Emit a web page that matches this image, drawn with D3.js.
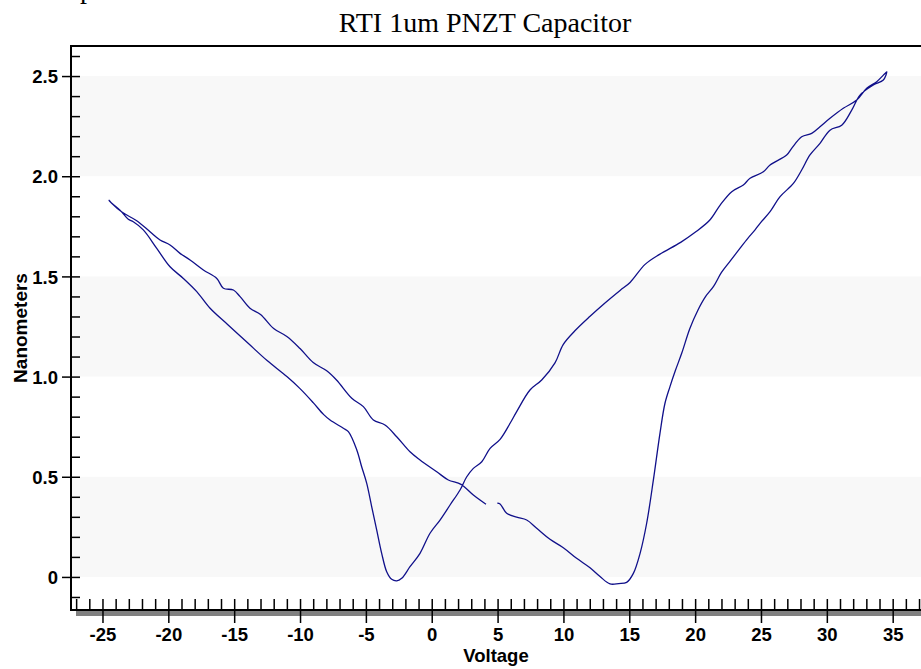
<!DOCTYPE html>
<html>
<head>
<meta charset="utf-8">
<script src="https://cdn.jsdelivr.net/npm/d3@7"></script>
<style>
  body { margin: 0; background: #fff; }
  svg { display: block; }
  .tick text { font-family: "Liberation Sans", Arial, sans-serif; font-weight: bold; font-size: 18.5px; fill: #000; }
</style>
</head>
<body>
<div id="chart"></div>
<script>
// Title
var chartTitle = "RTI 1um PNZT Capacitor";
var xLabel = "Voltage";
var yLabel = "Nanometers";

// tick values
var xTicks = [-25, -20, -15, -10, -5, 0, 5, 10, 15, 20, 25, 30, 35];
var yTicks = [0, 0.5, 1.0, 1.5, 2.0, 2.5];
var yBands = [[0, 0.5], [1.0, 1.5], [2.0, 2.5]];

// the loop, in measurement order (starts just right of the gap near 5 V)
var volts = [
  4.98, 5.19, 5.69, 6.45, 7.21, 7.97, 8.98, 9.99, 11.0, 12.02, 12.78, 13.54, 14.2, 14.8, 15.31, 15.82,
  16.32, 16.83, 17.33, 17.71, 18.09, 18.5, 19.0, 19.6, 20.2, 20.8, 21.4, 22.0, 22.7, 23.4, 24.0, 24.55,
  24.93, 25.69, 26.45, 27.46, 28.09, 28.72, 29.48, 30.24, 31.13, 31.89, 32.52, 33.53, 34.29, 34.55,
  34.42, 33.79, 33.03, 32.27, 31.25, 30.24, 29.48, 28.85, 28.09, 27.33, 26.95, 25.69, 25.18, 24.17,
  23.66, 22.78, 21.9, 21.1, 20.0, 18.9, 17.3, 16.2, 15.06, 14.3, 13.2, 12.0, 10.89, 9.98, 9.37, 8.35,
  7.46, 6.45, 5.95, 5.19, 4.43, 3.8, 3.16, 2.66, 2.15, 1.39, 0.63, -0.13, -0.89, -1.65, -2.28, -2.66,
  -3.04, -3.42, -3.8, -4.18, -4.56, -4.94, -5.32, -5.69, -6.33, -6.71, -7.72, -8.2, -9, -10, -11,
  -12.5, -14, -15.5, -16.83, -17.84, -18.86, -19.87, -20.88, -21.9, -22.66, -23.04, -23.67, -24.42,
  -24.5, -24.3, -23.5, -22.4, -21.39, -20.63, -19.87, -19.11, -18.35, -17.34, -16.32, -15.82, -15.06,
  -14.55, -13.8, -13, -12, -11, -10, -9, -8, -7.23, -6.07, -5.19, -4.43, -3.55, -2.66, -1.65, -0.89,
  0.38, 1.26, 2.02, 2.4, 3.16, 4.12
];
var nm = [
  0.368, 0.364, 0.318, 0.298, 0.284, 0.243, 0.188, 0.146, 0.093, 0.046, 0.002, -0.035, -0.033, -0.027, 0.018, 0.118,
  0.268, 0.484, 0.717, 0.867, 0.95, 1.03, 1.12, 1.24, 1.33, 1.40, 1.45, 1.52, 1.58, 1.64, 1.69, 1.732,
  1.765, 1.823, 1.898, 1.964, 2.031, 2.106, 2.164, 2.23, 2.255, 2.33, 2.405, 2.455, 2.48, 2.521,
  2.513, 2.472, 2.439, 2.38, 2.339, 2.289, 2.247, 2.214, 2.197, 2.139, 2.106, 2.056, 2.022, 1.99,
  1.956, 1.923, 1.856, 1.78, 1.72, 1.67, 1.61, 1.56, 1.47, 1.43, 1.37, 1.30, 1.23, 1.16, 1.07, 0.983,
  0.933, 0.825, 0.767, 0.687, 0.642, 0.575, 0.542, 0.5, 0.434, 0.359, 0.284, 0.218, 0.118, 0.051, -0.007, -0.02,
  -0.012, 0.026, 0.118, 0.235, 0.351, 0.468, 0.55, 0.634, 0.725, 0.742, 0.783, 0.81, 0.87, 0.94, 1.0,
  1.08, 1.17, 1.26, 1.341, 1.424, 1.49, 1.548, 1.64, 1.732, 1.773, 1.785, 1.831, 1.873,
  1.88, 1.865, 1.82, 1.778, 1.723, 1.682, 1.657, 1.615, 1.582, 1.532, 1.49, 1.441, 1.432,
  1.399, 1.341, 1.31, 1.24, 1.2, 1.14, 1.07, 1.03, 0.983, 0.892, 0.85, 0.783, 0.758, 0.7, 0.625, 0.584,
  0.525, 0.484, 0.468, 0.454, 0.409, 0.363
];

var w = 921;
var h = 669;
// plot box (don't call these top/left, window.top is read only)
var padL = 71, padR = 921, padT = 46, padB = 610;

var svg = d3.select("#chart").append("svg").attr("width", w).attr("height", h);

var xScale = d3.scaleLinear().domain([-27.39, 37.15]).range([padL, padR]);
var yScale = d3.scaleLinear().domain([-0.165, 2.65]).range([padB, padT]);

// light bands
svg.selectAll("rect.band")
  .data(yBands)
  .enter()
  .append("rect")
  .attr("class", "band")
  .attr("x", padL)
  .attr("width", padR - padL)
  .attr("y", function (d) { return yScale(d[1]); })
  .attr("height", function (d) { return yScale(d[0]) - yScale(d[1]); })
  .attr("fill", "#f8f8f8");

// the curve
var points = volts.map(function (v, i) { return [v, nm[i]]; });
var line = d3.line()
  .x(function (d) { return xScale(d[0]); })
  .y(function (d) { return yScale(d[1]); })
  .curve(d3.curveCatmullRom);
svg.append("path")
  .datum(points)
  .attr("d", line)
  .attr("fill", "none")
  .attr("stroke", "#10108a")
  .attr("stroke-width", 1.3);

// shadow under x axis
svg.append("rect")
  .attr("x", padL + 5)
  .attr("y", padB + 1)
  .attr("width", padR - padL - 5)
  .attr("height", 5)
  .attr("fill", "#808080");

// top frame line
svg.append("line")
  .attr("x1", padL).attr("x2", padR)
  .attr("y1", padT).attr("y2", padT)
  .attr("stroke", "#000").attr("stroke-width", 2);

// y axis: major (outside, labelled) + all ticks inside
var yAxis = d3.axisLeft(yScale)
  .tickValues(yTicks)
  .tickSize(9)
  .tickPadding(4)
  .tickFormat(function (d) { return d === 0 ? "0" : d3.format(".1f")(d); });
var gy = svg.append("g").attr("transform", "translate(" + padL + ",0)").call(yAxis);
gy.select(".domain").remove();
gy.selectAll(".tick text").attr("dy", "0.36em");

var yMinor = d3.range(-1, 27).map(function (i) { return i / 10; });
var gy2 = svg.append("g")
  .attr("transform", "translate(" + padL + ",0)")
  .call(d3.axisRight(yScale).tickValues(yMinor).tickSize(9).tickFormat(""));
gy2.select(".domain").remove();

// x axis
var xAxis = d3.axisBottom(xScale)
  .tickValues(xTicks)
  .tickSize(13)
  .tickPadding(5)
  .tickFormat(function (d) { return String(d); });
var gx = svg.append("g").attr("transform", "translate(0," + padB + ")").call(xAxis);
gx.select(".domain").remove();

var xMinor = d3.range(-27, 38);
var gx2 = svg.append("g")
  .attr("transform", "translate(0," + padB + ")")
  .call(d3.axisTop(xScale).tickValues(xMinor).tickSize(11).tickFormat(""));
gx2.select(".domain").remove();

svg.selectAll(".tick line").attr("stroke", "#000").attr("stroke-width", 1.5);

svg.append("line")
  .attr("x1", padL).attr("x2", padL)
  .attr("y1", padT - 1).attr("y2", padB + 1)
  .attr("stroke", "#000").attr("stroke-width", 2);

svg.append("line")
  .attr("x1", padL).attr("x2", padR)
  .attr("y1", padB).attr("y2", padB)
  .attr("stroke", "#000").attr("stroke-width", 2);

// labels
svg.append("text")
  .attr("x", 485)
  .attr("y", 32)
  .attr("text-anchor", "middle")
  .style("font-family", "'Liberation Serif', 'Times New Roman', serif")
  .style("font-size", "28px")
  .text(chartTitle);

// clipped line above the title, only its descender shows
svg.append("text")
  .attr("x", 41)
  .attr("y", -2)
  .style("font-family", "'Liberation Serif', 'Times New Roman', serif")
  .style("font-size", "28px")
  .text("Displacement");

svg.append("text")
  .attr("x", (padL + padR) / 2)
  .attr("y", 662)
  .attr("text-anchor", "middle")
  .style("font-family", "'Liberation Sans', Arial, sans-serif")
  .style("font-weight", "bold")
  .style("font-size", "18.5px")
  .text(xLabel);

svg.append("text")
  .attr("transform", "translate(27," + (padT + padB) / 2 + ") rotate(-90)")
  .attr("text-anchor", "middle")
  .style("font-family", "'Liberation Sans', Arial, sans-serif")
  .style("font-weight", "bold")
  .style("font-size", "19px")
  .text(yLabel);
</script>
</body>
</html>
